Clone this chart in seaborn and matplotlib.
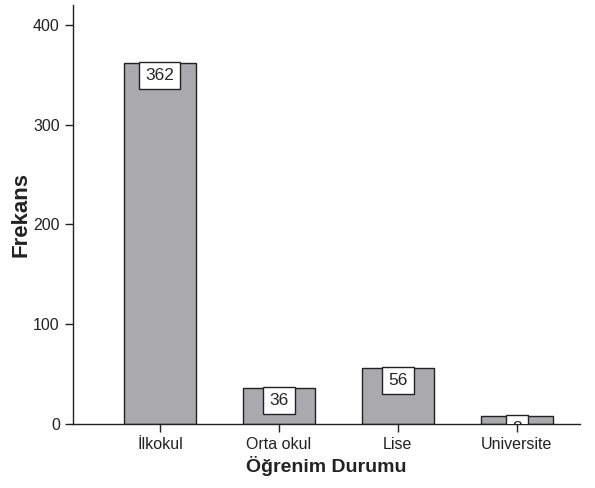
import matplotlib
matplotlib.use("Agg")
import matplotlib.pyplot as plt
import pandas as pd
import seaborn as sns

categories = ["İlkokul", "Orta okul", "Lise", "Universite"]
counts = [362, 36, 56, 8]
yticks = [0, 100, 200, 300, 400]

sns.set_style("ticks")
plt.rcParams["font.family"] = ["Liberation Sans", "DejaVu Sans"]

df = pd.DataFrame({"egitim": categories, "frekans": counts})

fig = plt.figure(figsize=(5.95, 4.88), dpi=100)
ax = fig.add_axes([73 / 595, 64 / 488, 507 / 595, 419 / 488])

sns.barplot(data=df, x="egitim", y="frekans", color="#aaaaad",
            saturation=1, width=0.6, edgecolor="#222222", linewidth=1,
            ax=ax)

# value labels in white boxes hanging from the bar tops
for i, v in enumerate(counts):
    ax.text(i, v - 5, str(v), ha="center", va="top", fontsize=12.5,
            clip_on=True,
            bbox=dict(boxstyle="square,pad=0.35", fc="white", ec="#222222",
                      lw=1))

ax.set_xlim(-0.73, 3.53)
ax.set_ylim(0, 420)
ax.set_yticks(yticks)
ax.tick_params(axis="both", labelsize=11.5, length=6, width=1,
               colors="#222222", labelcolor="#222222")
ax.set_xlabel("Öğrenim Durumu", fontsize=14, fontweight="bold",
              color="#222222", labelpad=3)
ax.set_ylabel("Frekans", fontsize=16, fontweight="bold", color="#222222",
              labelpad=1)
sns.despine(ax=ax)
for s in ["left", "bottom"]:
    ax.spines[s].set_color("#222222")
    ax.spines[s].set_linewidth(1)

fig.savefig("out.png", dpi=100)
